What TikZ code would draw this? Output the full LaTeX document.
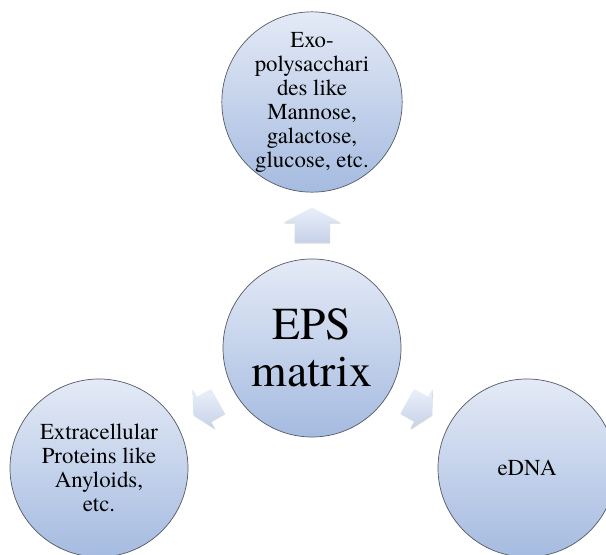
\documentclass[tikz,border=0pt]{standalone}
\usepackage{fontspec}
\setmainfont{texgyretermes-regular.otf}
\usepackage{tikz}
\usetikzlibrary{calc}
\usetikzlibrary{shadows}
\definecolor{cielo}{RGB}{228,234,246}
\definecolor{azzurro}{RGB}{165,187,224}
\definecolor{bordo}{RGB}{85,90,100}
\definecolor{freccia}{RGB}{234,239,249}
\definecolor{frecciascura}{RGB}{198,210,233}
\tikzset{
  radial/.style={
    bubble/.style={circle, draw=bordo, line width=0.6pt,
        top color=cielo, bottom color=azzurro,
        minimum size=5.34cm, inner sep=0pt, align=center},
    bubble text/.style={font={\fontsize{19.5}{20.5}\selectfont}},
    hub text/.style={font={\fontsize{39}{40}\selectfont}},
    arrow fill/.style={top color=freccia, bottom color=frecciascura,
        drop shadow={opacity=0.3, shadow xshift=0.5pt, shadow yshift=-0.9pt}},
    block arrow/.pic={
        \path[arrow fill] (-17.5,-17.5) -- (2.5,-17.5) -- (2.5,-28.5)
            -- (17.5,0) -- (2.5,28.5) -- (2.5,17.5) -- (-17.5,17.5) -- cycle;
    }
  }
}
\newcommand{\frecciona}[3][]{
    \path let \p1 = ($(#3)-(#2)$), \n1 = {atan2(\y1,\x1)} in
        ($(#2)!.5!(#3)$) pic[rotate=\n1,#1] {block arrow};
}

\begin{document}
\begin{tikzpicture}
[
    radial,
    x=0.03cm, y=0.03cm
]
    \useasboundingbox (0,0) rectangle (606,555);
    \clip (0,0) rectangle (606,555);

    \node[bubble, hub text] (eps) at (312,207) {EPS\\matrix};
    \node[bubble, bubble text] (exo) at (312,453)
        {Exo-\\polysacchari\\des like\\Mannose,\\galactose,\\glucose, etc.};
    \node[bubble, bubble text] (prot) at (99,87)
        {Extracellular\\Proteins like\\Anyloids,\\etc.};
    \node[bubble, bubble text] (edna) at (527,87) {eDNA};

    \frecciona{eps}{exo}
    \frecciona[scale=0.8]{eps}{prot}
    \frecciona[scale=0.8]{eps}{edna}
\end{tikzpicture}
\end{document}
